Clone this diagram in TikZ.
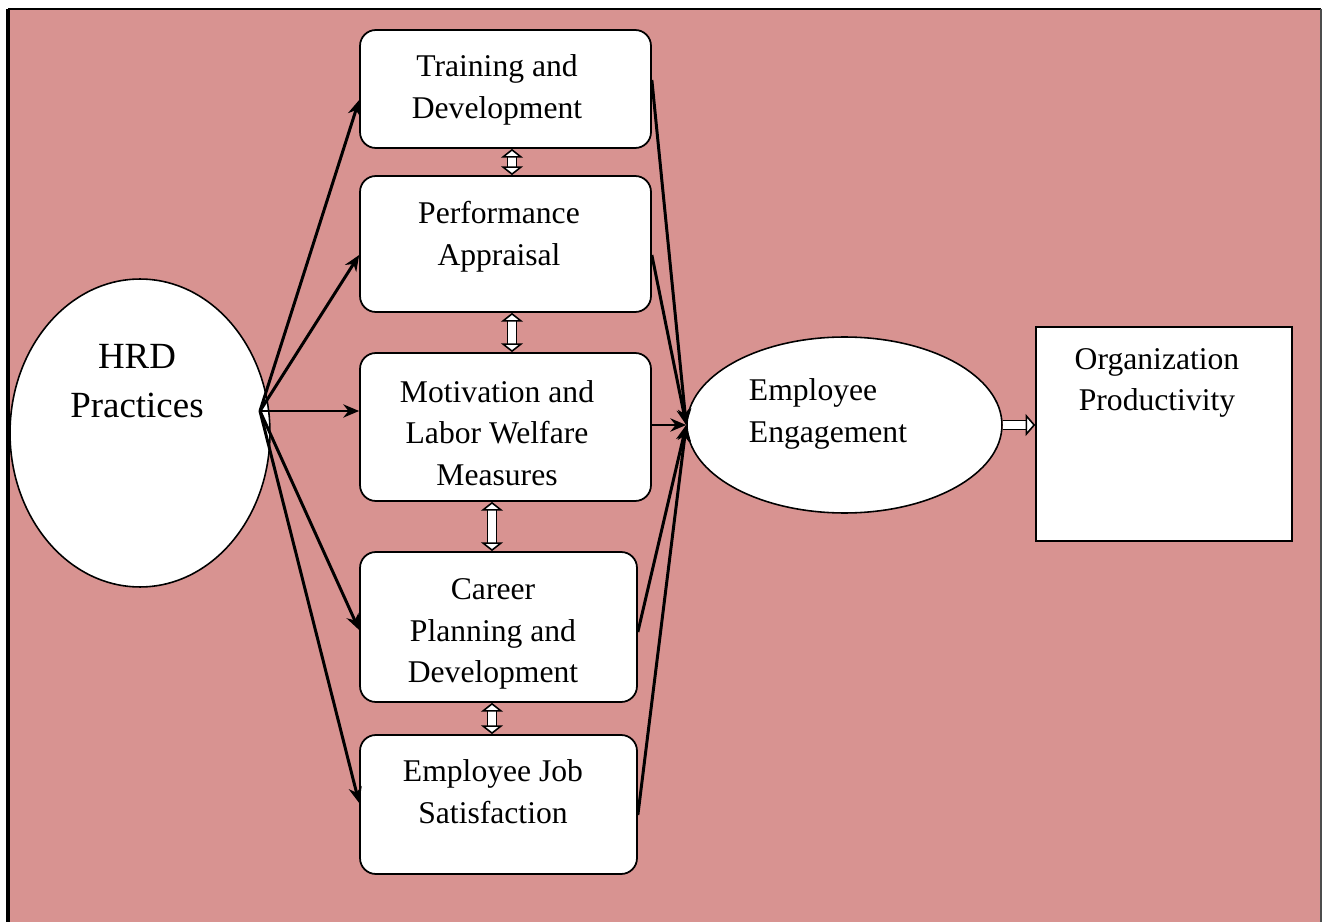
\documentclass[tikz,border=0pt]{standalone}
\usepackage{fontspec}
\setmainfont{Liberation Serif}
\usetikzlibrary{arrows.meta,shapes.geometric}
\definecolor{bgpink}{HTML}{D89391}

\begin{document}
\begin{tikzpicture}[x=0.02cm, y=-0.02cm, >={Stealth[length=9pt,width=7.5pt]},
    box/.style={draw, line width=1pt, fill=white, rounded corners=9pt, inner sep=0pt},
    txt/.style={align=center, inner sep=0pt, font=\fontsize{18}{23.8}\selectfont},
    link/.style={->, line width=1.7pt},
    twoway/.style={double=white, double distance=4.4pt, line width=0.9pt,
      {Triangle[fill=white,length=5pt,width=12.5pt]}-{Triangle[fill=white,length=5pt,width=12.5pt]}},
    oneway/.style={double=white, double distance=4.4pt, line width=0.9pt,
      -{Triangle[fill=white,length=5.5pt,width=12.5pt]}}]
  \useasboundingbox (0,0) rectangle (1323,922);
  % frame
  \fill[bgpink] (8,9) rectangle (1321,935);
  \draw[line width=1.8pt] (8,935) -- (8,9);
  \draw[line width=1.2pt] (8,9) -- (1321,9);
  \draw[line width=0.7pt, black!70] (1321,9) -- (1321,935);
  % source
  \node[ellipse, draw, line width=0.9pt, fill=white, minimum width=5.2cm, minimum height=6.16cm] (hrd) at (140,433) {};
  \node[txt, font=\fontsize{21}{28}\selectfont] (hrdtext) at (137,381) {HRD\\Practices};
  \coordinate (hrdtip) at (260,411);
  % practices
  \node[box, minimum width=5.82cm, minimum height=2.36cm] (train) at (505.5,89) {};
  \node[box, minimum width=5.82cm, minimum height=2.72cm] (perf) at (505.5,244) {};
  \node[box, minimum width=5.82cm, minimum height=2.96cm] (motiv) at (505.5,427) {};
  \node[box, minimum width=5.54cm, minimum height=3.0cm] (career) at (498.5,627) {};
  \node[box, minimum width=5.54cm, minimum height=2.78cm] (satis) at (498.5,804.5) {};
  \node[txt] (traintext) at (497,90) {Training and\\Development};
  \node[txt] (perftext) at (499,237) {Performance\\Appraisal};
  \node[txt] (motivtext) at (497,433) {Motivation and\\Labor Welfare\\Measures};
  \node[txt] (careertext) at (493,634) {Career\\Planning and\\Development};
  \node[txt] (satistext) at (493,792) {Employee Job\\Satisfaction};
  % engagement and outcome
  \node[ellipse, draw, line width=0.9pt, fill=white, minimum width=6.3cm, minimum height=3.52cm] (ee) at (844.5,425) {};
  \node[txt, align=left] (eetext) at (828,414) {Employee\\Engagement};
  \node[draw, line width=0.9pt, fill=white, minimum width=5.12cm, minimum height=4.28cm] (org) at (1164,434) {};
  \node[txt] (orgtext) at (1157,383) {Organization\\Productivity};
  % HRD to practices
  \draw[link] (hrdtip) -- (train.west |- 0,100);
  \draw[link] (hrdtip) -- (perf.west |- 0,255);
  \draw[link] (hrdtip) -- (motiv.west |- 0,411);
  \draw[link] (hrdtip) -- (career.west |- 0,630);
  \draw[link] (hrdtip) -- (satis.west |- 0,803);
  % practices to engagement
  \draw[link] (train.east |- 0,80) -- (ee.west);
  \draw[link] (perf.east |- 0,255) -- (ee.west);
  \draw[link] (motiv.east |- 0,425) -- (ee.west);
  \draw[link] (career.east |- 0,632) -- (ee.west);
  \draw[link] (satis.east |- 0,815) -- (ee.west);
  % links between practices
  \draw[twoway] ([xshift=0.13cm]train.south) -- ([xshift=0.13cm]perf.north);
  \draw[twoway] ([xshift=0.13cm]perf.south) -- ([xshift=0.13cm]motiv.north);
  \draw[twoway] ([xshift=-0.13cm]career.north |- motiv.south) -- ([xshift=-0.13cm]career.north);
  \draw[twoway] ([xshift=-0.13cm]career.south) -- ([xshift=-0.13cm]satis.north);
  \draw[oneway] (ee.east) -- (ee.east -| org.west);
\end{tikzpicture}
\end{document}
